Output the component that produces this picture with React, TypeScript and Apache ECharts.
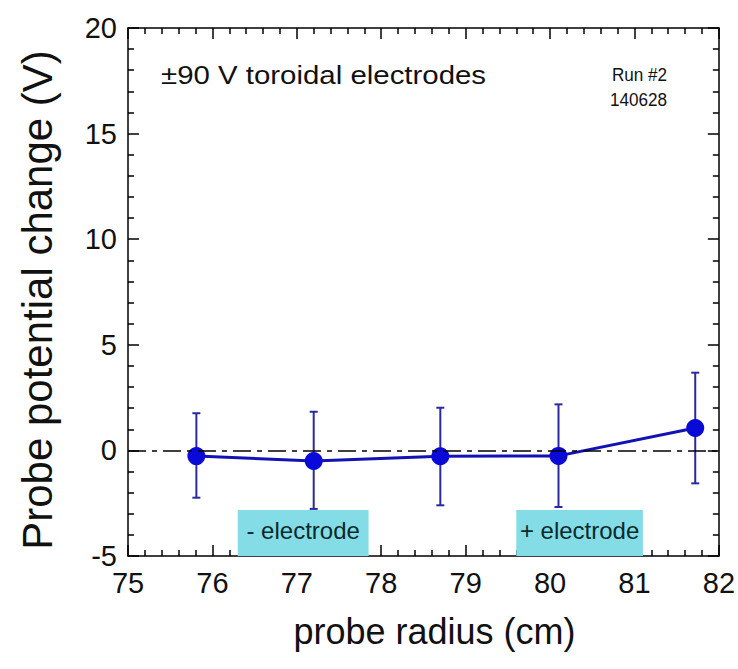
import React, { useEffect, useRef } from "react";
import * as echarts from "echarts";

// probe radius (cm)
const xValues = [75.81, 77.2, 78.7, 80.1, 81.72];
// probe potential change (V)
const yValues = [-0.27, -0.5, -0.28, -0.26, 1.06];
const errUpper = [1.76, 1.83, 2.02, 2.18, 3.68];
const errLower = [-2.24, -2.77, -2.6, -2.68, -1.56];

// electrode highlight boxes
const electrodeLabels = ["- electrode", "+ electrode"];
const electrodeX0 = [76.3, 79.6];
const electrodeX1 = [77.85, 81.1];
const electrodeTop = -2.82;

const annotation = "±90 V toroidal electrodes";
const runLines = ["Run #2", "140628"];
const xAxisTitle = "probe radius (cm)";
const yAxisTitle = "Probe potential change (V)";

const FONT = '"Liberation Sans", Arial, Helvetica, sans-serif';

export default function App() {
  const ref = useRef<HTMLDivElement>(null);
  useEffect(() => {
    if (!ref.current) return;
    const chart = echarts.init(ref.current, null, { renderer: "svg" });
    const lineData = xValues.map((x, i) => [x, yValues[i]]);
    const errData = xValues.map((x, i) => [x, errLower[i], errUpper[i]]);
    const boxes = electrodeLabels.map((name, i) => [
      { name, coord: [electrodeX0[i], -5] },
      { coord: [electrodeX1[i], electrodeTop] },
    ]);

    const tickStyle = { color: "#000", width: 1.5 };
    const makeX = (pos: "bottom" | "top", labels: boolean) => ({
      type: "value",
      position: pos,
      min: 75,
      max: 82,
      interval: 1,
      axisLine: { show: true, onZero: false, lineStyle: tickStyle },
      axisTick: { show: true, inside: true, length: 11, lineStyle: tickStyle },
      minorTick: { show: true, splitNumber: 5, length: 6, lineStyle: tickStyle },
      splitLine: { show: false },
      minorSplitLine: { show: false },
      axisLabel: {
        show: labels,
        fontSize: 29,
        color: "#111",
        margin: 12,
        fontFamily: FONT,
      },
      ...(labels
        ? {
            name: xAxisTitle,
            nameLocation: "middle",
            nameGap: 57,
            nameTextStyle: {
              fontSize: 36,
              color: "#111",
              fontFamily: FONT,
              padding: [0, 0, 0, 22],
            },
          }
        : {}),
    });
    const makeY = (pos: "left" | "right", labels: boolean) => ({
      type: "value",
      position: pos,
      min: -5,
      max: 20,
      interval: 5,
      axisLine: { show: true, onZero: false, lineStyle: tickStyle },
      axisTick: { show: true, inside: true, length: 11, lineStyle: tickStyle },
      minorTick: { show: true, splitNumber: 5, length: 6, lineStyle: tickStyle },
      splitLine: { show: false },
      minorSplitLine: { show: false },
      axisLabel: {
        show: labels,
        fontSize: 29,
        color: "#111",
        margin: 11,
        fontFamily: FONT,
      },
      ...(labels
        ? {
            name: yAxisTitle,
            nameLocation: "middle",
            nameGap: 70,
            nameTextStyle: {
              fontSize: 42,
              color: "#111",
              fontFamily: FONT,
              padding: [0, 16, 0, 0],
            },
          }
        : {}),
    });

    chart.setOption({
      animation: false,
      backgroundColor: "#fff",
      grid: { left: 128, top: 28, right: 16, bottom: 113 },
      xAxis: [makeX("bottom", true), makeX("top", false)],
      yAxis: [makeY("left", true), makeY("right", false)],
      graphic: [
        {
          type: "text",
          x: 161,
          y: 75,
          scaleX: 1.11,
          style: {
            text: annotation,
            font: `26.5px ${FONT}`,
            fill: "#111",
            verticalAlign: "middle",
          },
        },
        {
          type: "text",
          x: 667,
          y: 75,
          scaleX: 0.9,
          style: {
            text: runLines[0],
            font: `19px ${FONT}`,
            fill: "#111",
            align: "right",
            verticalAlign: "middle",
          },
        },
        {
          type: "text",
          x: 667,
          y: 100,
          scaleX: 0.9,
          style: {
            text: runLines[1],
            font: `19px ${FONT}`,
            fill: "#111",
            align: "right",
            verticalAlign: "middle",
          },
        },
      ],
      series: [
        {
          type: "line",
          xAxisIndex: 0,
          yAxisIndex: 0,
          data: [],
          silent: true,
          markArea: {
            silent: true,
            itemStyle: { color: "#84dde6" },
            label: {
              show: true,
              position: "inside",
              fontSize: 24,
              color: "#0c2a2a",
              fontFamily: FONT,
              offset: [0, -2],
            },
            data: boxes,
          },
          markLine: {
            silent: true,
            symbol: ["none", "none"],
            label: { show: false },
            lineStyle: { color: "#000", width: 1.5, type: [18, 6, 5, 6] },
            data: [{ yAxis: 0 }],
          },
        },
        {
          type: "custom",
          xAxisIndex: 0,
          yAxisIndex: 0,
          data: errData,
          encode: { x: 0, y: [1, 2] },
          z: 3,
          renderItem: (params: any, api: any) => {
            const x = api.value(0);
            const lo = api.coord([x, api.value(1)]);
            const hi = api.coord([x, api.value(2)]);
            const w = 4;
            const style = { stroke: "#2a2aa0", lineWidth: 2 };
            return {
              type: "group",
              children: [
                { type: "line", shape: { x1: lo[0], y1: lo[1], x2: hi[0], y2: hi[1] }, style },
                { type: "line", shape: { x1: lo[0] - w, y1: lo[1], x2: lo[0] + w, y2: lo[1] }, style },
                { type: "line", shape: { x1: hi[0] - w, y1: hi[1], x2: hi[0] + w, y2: hi[1] }, style },
              ],
            };
          },
        },
        {
          type: "line",
          xAxisIndex: 0,
          yAxisIndex: 0,
          data: lineData,
          z: 4,
          symbol: "circle",
          symbolSize: 18,
          showSymbol: true,
          lineStyle: { color: "#1212b4", width: 3 },
          itemStyle: { color: "#0a0ad8" },
        },
      ],
    });
    return () => chart.dispose();
  }, []);
  return (
    <div
      ref={ref}
      style={{ position: "absolute", left: 0, top: 0, width: 738, height: 669 }}
    />
  );
}
